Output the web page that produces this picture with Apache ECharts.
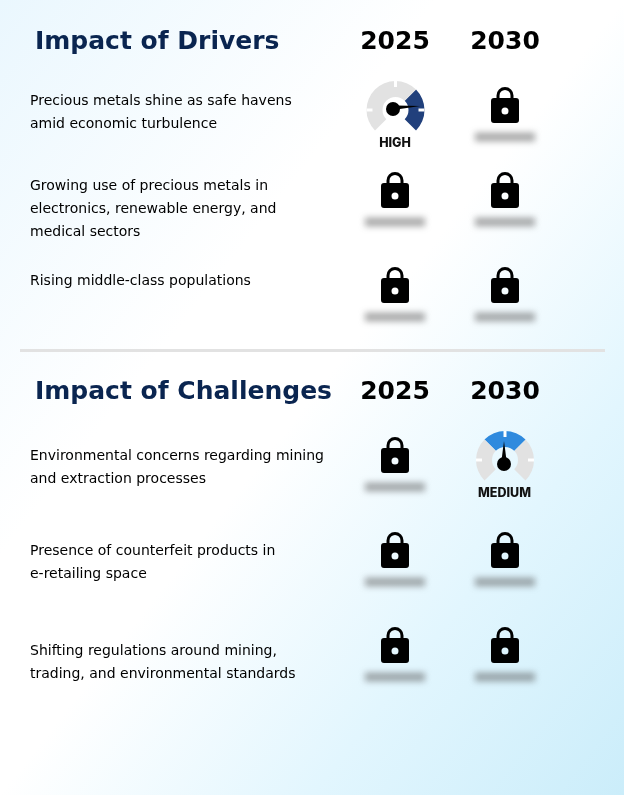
<!DOCTYPE html>
<html>
<head>
<meta charset="utf-8">
<style>
  html, body { margin: 0; padding: 0; background: #fff; }
  #chart { width: 624px; height: 795px; }
</style>
<script src="https://cdn.jsdelivr.net/npm/echarts@6/dist/echarts.min.js"></script>
</head>
<body>
<div id="chart"></div>
<script>
const years = ['2025', '2030'];
const driversTitle = 'Impact of Drivers';
const challengesTitle = 'Impact of Challenges';
const driverRows = [
  ['Precious metals shine as safe havens', 'amid economic turbulence'],
  ['Growing use of precious metals in', 'electronics, renewable energy, and', 'medical sectors'],
  ['Rising middle-class populations']
];
const challengeRows = [
  ['Environmental concerns regarding mining', 'and extraction processes'],
  ['Presence of counterfeit products in', 'e-retailing space'],
  ['Shifting regulations around mining,', 'trading, and environmental standards']
];
const driverCells = [['HIGH', null], [null, null], [null, null]];
const challengeCells = [[null, 'MEDIUM'], [null, null], [null, null]];
const levelValues = { HIGH: 2.46, MEDIUM: 1.5 };

// layout, in page pixels
const rowTextY = [101, 186, 281, 456, 551, 651];
const rowIconY = [105, 190, 285, 455, 550, 645];
const gaugeY = [110, 460];
const lineHeight = 23;
const colX = [395, 505];
const navy = '#0a2550';
const lockPath = 'path://M3 11H25a3 3 0 0 1 3 3V33a3 3 0 0 1 -3 3H3a3 3 0 0 1 -3 -3V14a3 3 0 0 1 3 -3Z' +
  'M14 20.5a3.5 3.5 0 1 0 0 7a3.5 3.5 0 1 0 0 -7Z' +
  'M5.5 11V8.5a8.5 8.5 0 0 1 17 0V11H19.5V8.5a5.5 5.5 0 0 0 -11 0V11Z';

// the hidden rating under each lock: a blurred sprite, no readable word
function blurSprite() {
  const canvas = document.createElement('canvas');
  canvas.width = 84;
  canvas.height = 28;
  const ctx = canvas.getContext('2d');
  ctx.filter = 'blur(3px)';
  ctx.fillStyle = 'rgba(80,80,80,0.48)';
  ctx.fillRect(12, 9.5, 60, 9);
  return 'image://' + canvas.toDataURL();
}

const chart = echarts.init(document.getElementById('chart'));
const allRows = driverRows.concat(challengeRows);
const allCells = driverCells.concat(challengeCells);

const lockData = [];
const blurData = [];
const gaugeSeries = [];
allCells.forEach((cells, r) => {
  cells.forEach((level, c) => {
    if (!level) {
      lockData.push([years[c], rowIconY[r]]);
      blurData.push([years[c], rowIconY[r] + 32]);
      return;
    }
    const cy = gaugeY[r < driverRows.length ? 0 : 1];
    const high = level === 'HIGH';
    const shift = high ? [-2.5, -1] : [-1, 4];
    const cx = high ? colX[c] + 0.5 : colX[c];
    gaugeSeries.push({
      type: 'gauge',
      center: [cx, cy],
      radius: 29,
      startAngle: 225,
      endAngle: -45,
      min: 0,
      max: 3,
      splitNumber: 3,
      silent: true,
      z: 3,
      axisLine: {
        lineStyle: {
          width: 16,
          color: high
            ? [[2 / 3, '#e2e2e2'], [1, '#21407c']]
            : [[1 / 3, '#e2e2e2'], [2 / 3, '#2f8ade'], [1, '#e2e2e2']]
        }
      },
      axisTick: { show: false },
      splitLine: { show: false },
      axisLabel: { show: false },
      pointer: {
        icon: 'path://M50 0L100 100L0 100Z',
        length: high ? 24 : 23,
        width: high ? 4 : 6,
        offsetCenter: shift,
        itemStyle: { color: '#000' }
      },
      anchor: {
        show: true,
        showAbove: true,
        size: 14,
        offsetCenter: shift,
        itemStyle: { color: '#000', borderWidth: 0 }
      },
      title: { show: false },
      detail: {
        show: true,
        offsetCenter: [-0.5, 33],
        formatter: level,
        color: '#111',
        fontFamily: 'Inter',
        fontWeight: 800,
        fontSize: 12.5
      },
      data: [{ value: levelValues[level] }]
    });
    // white notches on the outer edge
    gaugeSeries.push({
      type: 'gauge',
      center: [cx, cy],
      radius: 29,
      startAngle: 180,
      endAngle: 0,
      min: 0,
      max: 2,
      splitNumber: 2,
      silent: true,
      z: 4,
      axisLine: { show: false, lineStyle: { width: 0 } },
      axisTick: { show: false },
      splitLine: { show: true, distance: 0, length: 6, lineStyle: { color: '#fff', width: 3 } },
      axisLabel: { show: false },
      pointer: { show: false },
      anchor: { show: false },
      title: { show: false },
      detail: { show: false },
      data: [{ value: 0 }]
    });
  });
});

const texts = [];
function addText(x, y, text, font, color, align) {
  texts.push({
    type: 'text',
    x: x,
    y: y,
    style: {
      text: text,
      fontFamily: 'DejaVu Sans',
      fontSize: font.size,
      fontWeight: font.weight,
      fill: color,
      align: align || 'left',
      verticalAlign: 'middle'
    }
  });
}
const headFont = { size: 25, weight: 'bold' };
const bodyFont = { size: 14, weight: 'normal' };
addText(35, 42, driversTitle, headFont, navy);
addText(35, 392, challengesTitle, headFont, navy);
years.forEach((y, i) => {
  addText(colX[i], 42, y, headFont, '#000', 'center');
  addText(colX[i], 392, y, headFont, '#000', 'center');
});
allRows.forEach((lines, r) => {
  lines.forEach((line, i) => {
    addText(30, rowTextY[r] + i * lineHeight, line, bodyFont, '#000');
  });
});
texts.push({
  type: 'rect',
  shape: { x: 20, y: 349, width: 585, height: 3 },
  style: { fill: '#e2e2e2' }
});

chart.setOption({
  animation: false,
  // end point chosen so the other two corners both sit at the middle of the gradient
  backgroundColor: {
    type: 'linear',
    x: 0, y: 0, x2: 1.237, y2: 0.763,
    colorStops: [
      { offset: 0, color: '#eaf7fe' },
      { offset: 0.35, color: '#ffffff' },
      { offset: 0.5, color: '#ffffff' },
      { offset: 0.75, color: '#e2f6fe' },
      { offset: 1, color: '#cbedfa' }
    ]
  },
  grid: { left: 340, width: 220, top: 0, height: 795 },
  xAxis: { type: 'category', data: years, show: false },
  yAxis: { type: 'value', min: 0, max: 795, inverse: true, show: false },
  graphic: texts,
  series: [
    {
      type: 'scatter',
      data: lockData,
      symbol: lockPath,
      symbolSize: [28, 36],
      silent: true,
      itemStyle: { color: '#000', opacity: 1 }
    },
    {
      type: 'scatter',
      data: blurData,
      symbol: blurSprite(),
      symbolSize: [84, 28],
      silent: true,
      itemStyle: { opacity: 1 }
    }
  ].concat(gaugeSeries)
});
</script>
</body>
</html>
